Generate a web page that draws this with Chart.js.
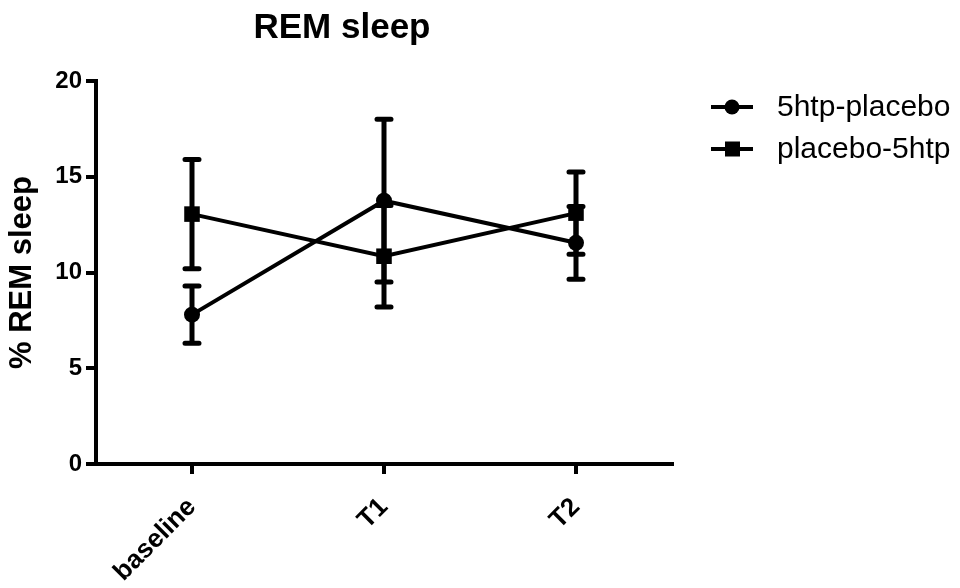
<!DOCTYPE html>
<html>
<head>
<meta charset="utf-8">
<title>REM sleep</title>
<script src="https://cdn.jsdelivr.net/npm/chart.js@4.4.1/dist/chart.umd.min.js"></script>
<style>
  html, body { margin: 0; padding: 0; background: #fff; }
  #wrap { width: 960px; height: 588px; position: relative; }
</style>
</head>
<body>
<div id="wrap"><canvas id="remChart" width="960" height="588"></canvas></div>
<script>
// visits
const timepoints = ['baseline', 'T1', 'T2'];

// % REM sleep, mean and error per group
const htpPlaceboMean = [7.8, 13.75, 11.55];
const htpPlaceboErr = [1.5, 4.25, 1.9];
const placeboHtpMean = [13.05, 10.85, 13.1];
const placeboHtpErr = [2.85, 2.65, 2.15];

const yTicks = [0, 5, 10, 15, 20];

const FONT = 'Arial, "Liberation Sans", Helvetica, sans-serif';

// error bars drawn from the dataset's own scales
const errorBars = {
    id: 'errorBars',
    afterDatasetsDraw(chart) {
        const ctx = chart.ctx;
        const yScale = chart.scales.y;
        ctx.save();
        ctx.strokeStyle = '#000';
        ctx.lineWidth = 5;
        ctx.lineCap = 'round';
        chart.data.datasets.forEach((ds, i) => {
            const meta = chart.getDatasetMeta(i);
            meta.data.forEach((pt, j) => {
                const x = pt.x;
                const top = yScale.getPixelForValue(ds.data[j] + ds.errors[j]);
                const bot = yScale.getPixelForValue(ds.data[j] - ds.errors[j]);
                ctx.beginPath();
                ctx.moveTo(x, top);
                ctx.lineTo(x, bot);
                ctx.moveTo(x - 7, top);
                ctx.lineTo(x + 7, top);
                ctx.moveTo(x - 7, bot);
                ctx.lineTo(x + 7, bot);
                ctx.stroke();
            });
        });
        ctx.restore();
    }
};

// title and legend placed beside the plot
const sideText = {
    id: 'sideText',
    afterDraw(chart) {
        const ctx = chart.ctx;
        ctx.save();
        ctx.fillStyle = '#000';
        ctx.font = 'bold 35px ' + FONT;
        ctx.textAlign = 'center';
        ctx.textBaseline = 'alphabetic';
        ctx.fillText('REM sleep', 342, 38);

        const rows = [107, 149];
        chart.data.datasets.forEach((ds, i) => {
            const y = rows[i];
            ctx.strokeStyle = '#000';
            ctx.lineWidth = 4;
            ctx.beginPath();
            ctx.moveTo(711, y);
            ctx.lineTo(753, y);
            ctx.stroke();
            ctx.fillStyle = '#000';
            if (ds.pointStyle === 'circle') {
                ctx.beginPath();
                ctx.arc(732, y, 7.5, 0, Math.PI * 2);
                ctx.fill();
            } else {
                ctx.fillRect(725, y - 7.5, 15, 15);
            }
            ctx.font = '30px ' + FONT;
            ctx.textAlign = 'left';
            ctx.textBaseline = 'middle';
            ctx.fillText(ds.label, 777, y + 1);
        });
        ctx.restore();
    }
};

new Chart(document.getElementById('remChart'), {
    type: 'line',
    data: {
        labels: timepoints,
        datasets: [
            {
                label: '5htp-placebo',
                data: htpPlaceboMean,
                errors: htpPlaceboErr,
                borderColor: '#000',
                borderWidth: 4,
                pointStyle: 'circle',
                pointRadius: 8,
                pointBorderWidth: 0,
                pointBackgroundColor: '#000'
            },
            {
                label: 'placebo-5htp',
                data: placeboHtpMean,
                errors: placeboHtpErr,
                borderColor: '#000',
                borderWidth: 4,
                pointStyle: 'rect',
                pointRadius: 11,
                pointBorderWidth: 0,
                pointBackgroundColor: '#000'
            }
        ]
    },
    options: {
        responsive: false,
        animation: false,
        clip: false,
        layout: { padding: { left: 0, top: 81, right: 288, bottom: 0 } },
        plugins: {
            legend: { display: false },
            title: { display: false },
            tooltip: { enabled: false }
        },
        scales: {
            x: {
                offset: true,
                afterFit: s => { s.height = 124; },
                grid: { drawOnChartArea: false, color: '#000', tickLength: 10, lineWidth: 4 },
                border: { color: '#000', width: 4 },
                ticks: {
                    color: '#000',
                    font: { family: FONT, size: 26, weight: 'bold' },
                    maxRotation: 45,
                    minRotation: 45,
                    padding: 18
                }
            },
            y: {
                min: 0,
                max: 20,
                afterFit: s => { s.width = 96; },
                afterBuildTicks: s => { s.ticks = yTicks.map(v => ({ value: v })); },
                grid: { drawOnChartArea: false, color: '#000', tickLength: 10, lineWidth: 4 },
                border: { color: '#000', width: 4 },
                title: {
                    display: true,
                    text: '% REM sleep',
                    color: '#000',
                    font: { family: FONT, size: 31, weight: 'bold' },
                    padding: { top: 4, bottom: 0 }
                },
                ticks: {
                    color: '#000',
                    font: { family: FONT, size: 24, weight: 'bold' },
                    padding: 4
                }
            }
        }
    },
    plugins: [errorBars, sideText]
});
</script>
</body>
</html>
